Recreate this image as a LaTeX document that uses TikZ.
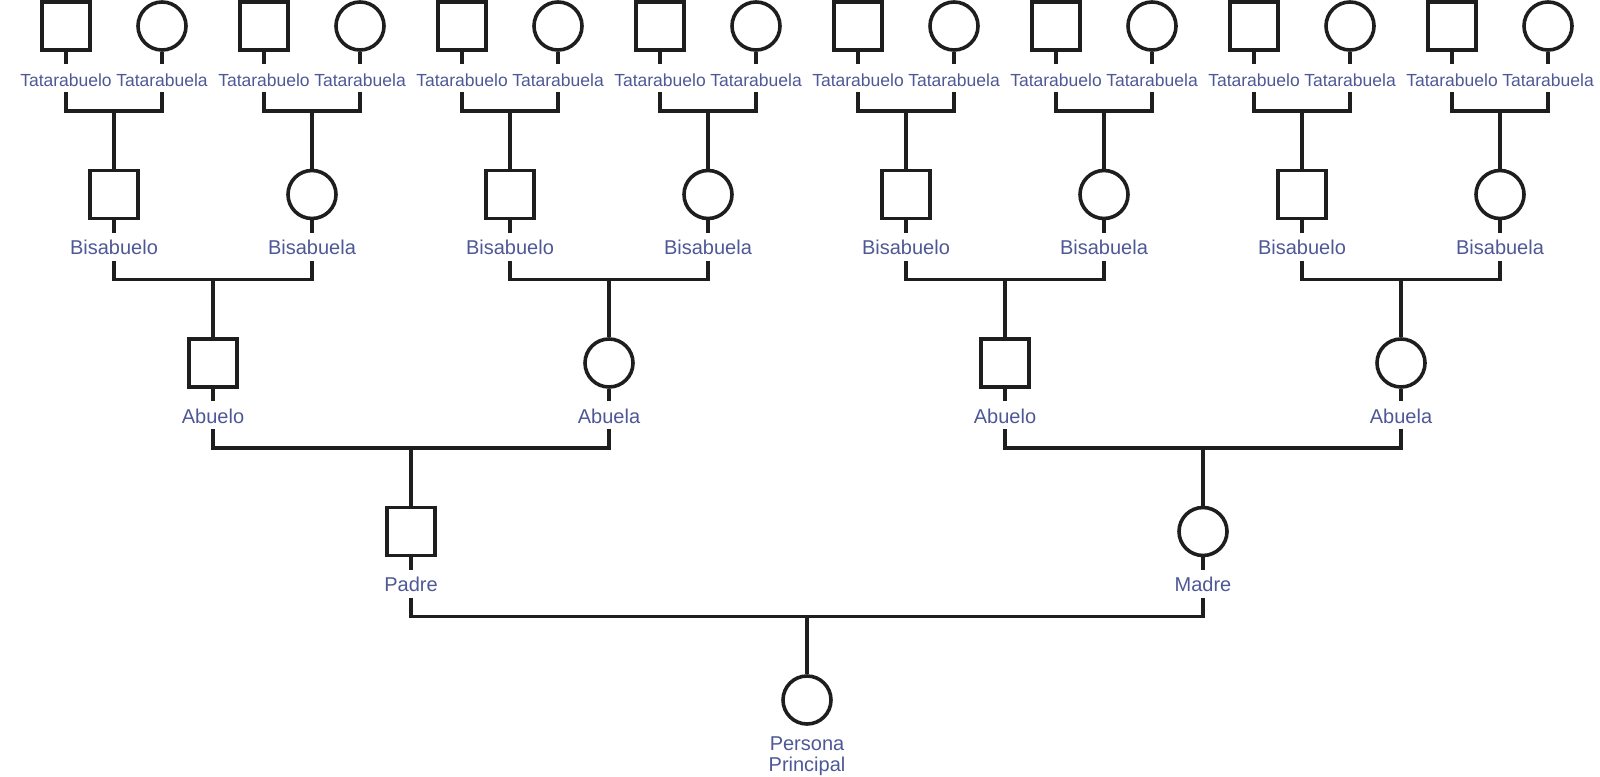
\documentclass[tikz,border=0pt]{standalone}
\usepackage{fontspec}
\setmainfont{Liberation Sans}
\definecolor{lineC}{RGB}{30,30,30}
\definecolor{labC}{RGB}{78,88,150}
\begin{document}
\begin{tikzpicture}[x=1pt,y=-1pt,
  male/.style={draw=lineC, rectangle, minimum size=48pt, inner sep=0pt, line width=3.6pt},
  female/.style={draw=lineC, circle, minimum size=48pt, inner sep=0pt, line width=3.6pt},
  lab/.style={text=labC, font=\fontsize{20}{21}\selectfont, inner xsep=0pt, inner ysep=6pt, text height=16pt, text depth=0pt, anchor=north},
  tlab/.style={lab, font=\fontsize{17.5}{19}\selectfont},
  link/.style={draw=lineC, line width=3.6pt, line join=miter}]
\useasboundingbox (0,0) rectangle (1600,776);
% Level 4: Tatarabuelos
\foreach \k [evaluate=\k as \xm using 66+198*\k,
             evaluate=\k as \xf using 162+198*\k,
             evaluate=\k as \ia using int(2*\k),
             evaluate=\k as \ib using int(2*\k+1)] in {0,...,7} {
  \node[male] (t\ia) at (\xm,26) {};
  \node[tlab] (tl\ia) at (\xm,64) {Tatarabuelo};
  \node[female] (t\ib) at (\xf,26) {};
  \node[tlab] (tl\ib) at (\xf,64) {Tatarabuela};
  \draw[link] (t\ia.south) -- (tl\ia.north);
  \draw[link] (t\ib.south) -- (tl\ib.north);
}
% Level 3: Bisabuelos
\foreach \k [evaluate=\k as \xm using 114+396*\k,
             evaluate=\k as \xf using 312+396*\k,
             evaluate=\k as \ia using int(2*\k),
             evaluate=\k as \ib using int(2*\k+1)] in {0,...,3} {
  \node[male] (b\ia) at (\xm,194.5) {};
  \node[lab] (bl\ia) at (\xm,232.5) {Bisabuelo};
  \node[female] (b\ib) at (\xf,194.5) {};
  \node[lab] (bl\ib) at (\xf,232.5) {Bisabuela};
  \draw[link] (b\ia.south) -- (bl\ia.north);
  \draw[link] (b\ib.south) -- (bl\ib.north);
}
% Level 2: Abuelos
\node[male] (a0) at (213,363) {};
\node[lab] (al0) at (213,401) {Abuelo};
\node[female] (a1) at (609,363) {};
\node[lab] (al1) at (609,401) {Abuela};
\node[male] (a2) at (1005,363) {};
\node[lab] (al2) at (1005,401) {Abuelo};
\node[female] (a3) at (1401,363) {};
\node[lab] (al3) at (1401,401) {Abuela};
\foreach \i in {0,...,3} { \draw[link] (a\i.south) -- (al\i.north); }
% Level 1: Padres
\node[male] (p0) at (411,531.5) {};
\node[lab] (pl0) at (411,569.5) {Padre};
\node[female] (p1) at (1203,531.5) {};
\node[lab] (pl1) at (1203,569.5) {Madre};
\foreach \i in {0,1} { \draw[link] (p\i.south) -- (pl\i.north); }
% Level 0: Persona principal
\node[female] (pp) at (807,700) {};
\node[text=labC, font=\fontsize{20}{21}\selectfont, align=center, inner sep=0pt, anchor=north] (ppl) at (807,737) {Persona\\Principal};
% Couple bars: tatarabuelos -> bisabuelos
\foreach \j [evaluate=\j as \ia using int(2*\j),
             evaluate=\j as \ib using int(2*\j+1)] in {0,...,7} {
  \coordinate (tb\j) at (b\j.north |- 0,111);
  \draw[link] (tl\ia.south) |- (tb\j) -| (tl\ib.south);
  \draw[link] (tb\j) -- (b\j.north);
}
% bisabuelos -> abuelos
\foreach \j [evaluate=\j as \ia using int(2*\j),
             evaluate=\j as \ib using int(2*\j+1)] in {0,...,3} {
  \coordinate (bb\j) at (a\j.north |- 0,279.5);
  \draw[link] (bl\ia.south) |- (bb\j) -| (bl\ib.south);
  \draw[link] (bb\j) -- (a\j.north);
}
% abuelos -> padres
\foreach \j [evaluate=\j as \ia using int(2*\j),
             evaluate=\j as \ib using int(2*\j+1)] in {0,1} {
  \coordinate (ab\j) at (p\j.north |- 0,448);
  \draw[link] (al\ia.south) |- (ab\j) -| (al\ib.south);
  \draw[link] (ab\j) -- (p\j.north);
}
% padres -> persona
\coordinate (pb) at (pp.north |- 0,616.5);
\draw[link] (pl0.south) |- (pb) -| (pl1.south);
\draw[link] (pb) -- (pp.north);
\end{tikzpicture}
\end{document}
